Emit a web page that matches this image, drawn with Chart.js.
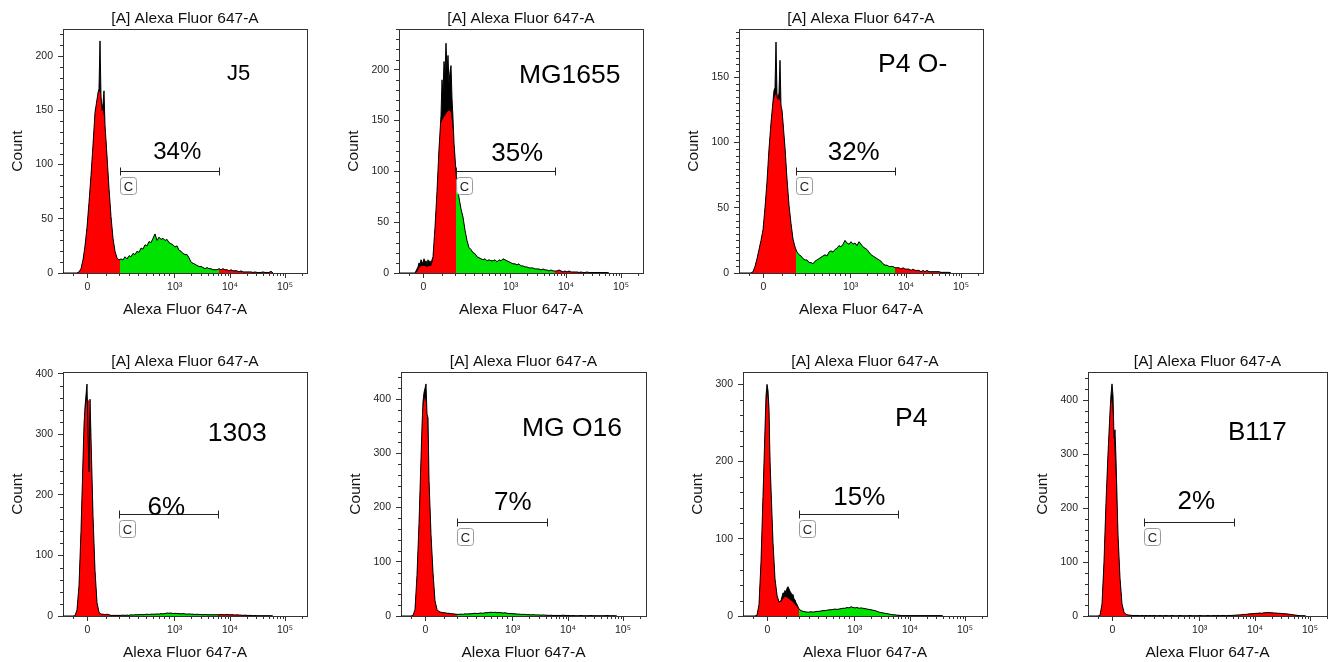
<!DOCTYPE html>
<html><head><meta charset="utf-8">
<script src="https://cdn.jsdelivr.net/npm/chart.js@4.4.1/dist/chart.umd.min.js"></script>
<style>
html,body{margin:0;padding:0;background:#fff;width:1334px;height:662px;overflow:hidden;position:relative;}
canvas{position:absolute;}
</style></head><body>
<script>
// ---------------- DATA ----------------
// x is in display channels of the biexponential axis (1 channel = 1 px of plot width),
// counts are listed every channelStep channels starting at channel 0.
const channelStep = 2;
const xTickPositions = [24.5, 111.7, 167, 222];
const xTickLabels = ['0', '10³', '10⁴', '10⁵'];
const xMinorTickPositions = [10, 43, 56, 66, 75, 83, 90, 96, 101, 106, 128.3, 138, 145, 150.4, 154.7, 158.4, 161.6, 164.5, 183.6, 193.4, 200.3, 205.7, 210, 213.7, 216.9, 219.8, 238.6];

const sampleNames = ['J5', 'MG1655', 'P4 O-', '1303', 'MG O16', 'P4', 'B117'];
const gatePercents = ['34%', '35%', '32%', '6%', '7%', '15%', '2%'];
const gateStarts = [56.7, 56.7, 56.7, 55.7, 55.7, 56, 56];
const gateEnds = [155.7, 155.7, 155.7, 155, 146.3, 155.3, 146];
const gateLevels = [94.4, 100.3, 78.3, 169, 174, 132.5, 175];
const yMaxima = [225, 240, 187, 403, 450, 316, 452];
const yTickSteps = [50, 50, 50, 100, 100, 100, 100];
const yMinorSteps = [10, 10, 5, 20, 20, 20, 20];

const j5Counts = [
  0,0,0,0,0,0,0,0,1,4,
  12,25,42,65,90,118,148,160,168,165,
  150,138,110,78,52,32,20,14,12,13,
  12,15,13,16,15,18,17,20,19,23,
  22,26,25,29,28,32,36,30,33,31,
  32,30,31,28,27,26,24,25,21,20,
  18,17,17,14,10,9,8,7,6,6,
  5,4,5,4,4,3,3,3,4,3,
  4,3,3,2,3,2,2,2,1,2,
  1,1,1,1,1,0.5,1,0.5,0.5,0.5,
  1,0.5,0.5,0.5,1.5,0];
const j5Trace = [[35,166],[36,170],[37,214],[38,162],[39,150],[40,156],[41,168],[42,136],[43,122]];

const mg1655Counts = [
  0,0,0,0,0,0,0,0,0,1,
  5,7,7,7,6,7,7,12,45,80,
  122,148,152,155,158,160,158,140,112,85,
  74,63,55,42,32,25,23,20,19,16,
  15,14,13,14,12,13,12,12,13,11,
  13,12,14,13,12,11,10,9,9,8,
  9,7,7,6,6,5,5,5,4,4,
  4,3,4,3,3,2,3,2,2,2,
  3,2,1,2,1,2,1,1,1,1,
  0.5,1,0.5,0.5,1,0.5,0.5,0.5,0.5,0.5,
  0.5,0.5,0.5,0.5,0.5,0];
const mg1655Trace = [[19,6],[20,10],[21,8],[22,13],[23,11],[24,9],[25,14],[26,10],[27,12],[28,8],[29,13],[30,10],[31,12],[32,9],[33,13],[34,16],
  [42,155],[43,190],[44,178],[45,208],[46,196],[47,226],[48,200],[49,214],[50,186],[51,198],[52,204],[53,172],[54,152],[55,128]];

const p4oCounts = [
  0,0,0,0,0,0,0,1,5,11,
  18,25,33,50,70,95,115,130,136,138,
  134,130,116,96,72,52,38,26,20,16,
  14,13,11,10,10,8,8,7,9,10,
  11,12,13,14,13,16,17,16,18,19,
  21,20,22,25,23,22,24,22,23,21,
  24,22,20,19,18,16,14,13,12,11,
  10,9,7,6,6,5,5,5,4,4,
  4,3,4,3,3,3,2,3,2,2,
  2,1,2,1,2,1,1,1,1,1,
  1,0.5,0.5,0.5,0.5,0.5,0];
const p4oTrace = [[35,140],[36,142],[37,177],[38,135],[39,133],[40,138],[41,163],[42,128],[43,125]];

const s1303Counts = [
  0,0,0,0,0,0,0.5,10,50,140,
  265,340,360,355,285,165,75,22,6,3,
  3,2,3,2,1,1,1,1,1,1,
  1.5,1,1.5,1,2,1.5,2,2,2,2.5,
  2,2.5,3,2.5,3,3,3,3.5,3,4,
  3.5,4,5,4.5,5,4,4.5,4,4,3.5,
  4,3.5,3,3.5,3,3,2.5,3,2.5,2.5,
  2,2.5,2,2,2,2,2,2,2,2.5,
  2,2,2.5,2,2,2,1.5,2,1.5,1.5,
  1,1.5,1,1,1,0.5,1,0.5,0.5,0.5,
  0.5,0.5,0.5,0.5,0.5,0];
const s1303Trace = [[21,315],[22,345],[23,365],[24,383],[25,300],[26,238],[27,358],[28,295]];

const mgo16Counts = [
  0,0,0,0,0,0,1,12,75,170,
  290,385,405,380,260,150,80,28,12,8,
  7,6,6,5,5,4,4,3.5,3,3,
  3.5,3,4,3.5,4,4,4.5,5,4.5,5,
  5.5,5,6,6,6.5,7,6.5,7,6,6.5,
  6,5.5,6,5,4.5,4.5,4,4,3.5,3.5,
  3,3,3,2.5,2.5,2,2.5,2,2,2,
  1.5,2,1.5,1.5,1,1.5,1,1,1,1,
  1,1.5,1,1,1,0.5,1,0.5,0.5,0.5,
  1,0.5,0.5,0.5,0.5,1,0.5,0.5,0.5,0.5,
  0.5,0.5,0.5,1,0.5,0.5,0.5,0.5,0];
const mgo16Trace = [[21,350],[22,395],[23,412],[24,420],[25,428],[26,372],[27,366],[28,250]];

const p4Counts = [
  0,0,0,0,0,0,0,1,15,70,
  155,240,290,270,160,95,48,27,18,18,
  22,25,24,22,20,18,15,12,9,7,
  6,5.5,5,5,5.5,5,5.5,6,6,6.5,
  7,7,7.5,8,8,8.5,9,8.5,9,9.5,
  10,10,11,10.5,12,11,10.5,11,10,10.5,
  10,9.5,9,8.5,8,7.5,7,6,5,4.5,
  4,3.5,3,2.5,2,1.5,1.5,1,1,0.5,
  0.5,0.5,0.5,0.5,0.5,0.5,0.5,0.5,0.5,0.5,
  0.5,0.5,0.5,0.5,0.5,0.5,0.5,0.5,0.5,0.5,
  0];
const p4Trace = [[23,285],[24,300],[25,292],[26,268],[27,200],
  [38,20],[39,25],[40,30],[41,29],[42,33],[43,31],[44,36],[45,38],[46,35],[47,32],[48,30],[49,27],[50,28],[51,22],[52,21],[53,17],[54,15]];

const b117Counts = [
  0,0,0,0,0,0,1,22,100,210,
  300,375,405,330,250,150,70,22,7,3,
  2,1.5,1,1,1,1,0.5,1,0.5,1,
  0.5,1,0.5,1,0.5,0.5,1,0.5,0.5,1,
  0.5,0.5,1,0.5,0.5,0.5,1,0.5,0.5,0.5,
  0.5,1,0.5,0.5,0.5,0.5,1,0.5,0.5,0.5,
  1,0.5,0.5,1,0.5,1,0.5,1,1,0.5,
  1,1,1,1.5,1.5,2,2,2.5,3,3,
  3.5,4,4,4.5,5,5,5.5,5,6,6,
  6.5,6,6,5.5,5.5,5,5,4.5,4,4,
  3.5,3,2.5,2,1.5,1,0.5,0.5,0.5,0];
const b117Trace = [[22,378],[23,410],[24,430],[25,408],[26,330],[27,345],[28,290]];

const allCounts = [j5Counts, mg1655Counts, p4oCounts, s1303Counts, mgo16Counts, p4Counts, b117Counts];
const allTraces = [j5Trace, mg1655Trace, p4oTrace, s1303Trace, mgo16Trace, p4Trace, b117Trace];

// ---------------- LAYOUT / STYLE ----------------
const plotBoxes = [ // left, top, width, height (px)
  [63, 29, 244, 244], [399, 29, 244, 244], [739, 29, 244, 244],
  [63, 372, 244, 244], [401, 372, 245, 244], [743, 372, 244, 244], [1088, 372, 239, 244]];
const nameAnchors = [[175.7,185.4],[170.7,196.4],[173.7,161],[174.2,304.6],[171,349],[168.3,258.4],[169.3,343]];
const pctAnchors = [[114.2,112.7],[118.2,119.7],[114.7,93.5],[103.4,182],[111.8,212.3],[116.3,155.8],[108.3,215.2]];
const nameSizes = [22, 26.5, 26.5, 26.5, 26.5, 26.5, 26];
const pctSizes = [24, 26, 26, 26, 26, 26, 26];

const FONT = "'Liberation Sans', Arial, Helvetica, sans-serif";
const RED = '#ff0000', GREEN = '#00e300', AXIS = '#333333';
Chart.defaults.font.family = FONT;
Chart.defaults.color = '#222';

const Y_W = 64, TOP_H = 30, BOT_H = 46, RIGHT_PAD = 6;

function gateGradient(chart, i) {
  const a = chart.chartArea, x = chart.scales.x;
  if (!a || !x) return RED;
  const w = a.right - a.left;
  const f = v => Math.min(1, Math.max(0, (x.getPixelForValue(v) - a.left) / w));
  const f1 = f(gateStarts[i]), f2 = f(gateEnds[i]);
  const g = chart.ctx.createLinearGradient(a.left, 0, a.right, 0);
  g.addColorStop(0, RED); g.addColorStop(f1, RED); g.addColorStop(f1, GREEN);
  g.addColorStop(f2, GREEN); g.addColorStop(f2, RED); g.addColorStop(1, RED);
  return g;
}

function textAtCenter(ctx, txt, cx, cy, size) {
  ctx.font = size + 'px ' + FONT;
  ctx.textAlign = 'center';
  ctx.textBaseline = 'alphabetic';
  ctx.fillText(txt, cx, cy + size * 0.358);
}

const flowDecor = {
  id: 'flowDecor',
  afterDatasetsDraw(chart, args, o) {
    const i = o.index;
    const {ctx, chartArea: a, scales: {x, y}} = chart;
    ctx.save();
    // minor ticks
    ctx.strokeStyle = AXIS; ctx.lineWidth = 1; ctx.beginPath();
    xMinorTickPositions.forEach(c => {
      if (c < x.min || c > x.max) return;
      const px = Math.round(x.getPixelForValue(c)) + 0.5;
      ctx.moveTo(px, a.bottom); ctx.lineTo(px, a.bottom + 3);
    });
    const ms = yMinorSteps[i], mj = yTickSteps[i];
    for (let v = ms; v <= y.max + 1e-9; v += ms) {
      if (Math.abs(v / mj - Math.round(v / mj)) < 1e-6) continue;
      const py = Math.round(y.getPixelForValue(v)) + 0.5;
      ctx.moveTo(a.left, py); ctx.lineTo(a.left - 3, py);
    }
    ctx.stroke();
    // gate bracket
    const gx0 = Math.round(x.getPixelForValue(gateStarts[i])) + 0.5;
    const gx1 = Math.round(x.getPixelForValue(gateEnds[i])) + 0.5;
    const gy = Math.round(y.getPixelForValue(gateLevels[i])) + 0.5;
    ctx.strokeStyle = '#222'; ctx.beginPath();
    ctx.moveTo(gx0, gy); ctx.lineTo(gx1, gy);
    ctx.moveTo(gx0, gy - 4); ctx.lineTo(gx0, gy + 4);
    ctx.moveTo(gx1, gy - 4); ctx.lineTo(gx1, gy + 4);
    ctx.stroke();
    // "C" tag
    const bx = gx0, by = gy + 6, bw = 16, bh = 17, r = 3;
    ctx.beginPath();
    ctx.moveTo(bx + r, by); ctx.lineTo(bx + bw - r, by); ctx.quadraticCurveTo(bx + bw, by, bx + bw, by + r);
    ctx.lineTo(bx + bw, by + bh - r); ctx.quadraticCurveTo(bx + bw, by + bh, bx + bw - r, by + bh);
    ctx.lineTo(bx + r, by + bh); ctx.quadraticCurveTo(bx, by + bh, bx, by + bh - r);
    ctx.lineTo(bx, by + r); ctx.quadraticCurveTo(bx, by, bx + r, by);
    ctx.closePath();
    ctx.fillStyle = 'rgba(255,255,255,0.9)'; ctx.fill();
    ctx.strokeStyle = '#9a9a9a'; ctx.stroke();
    ctx.fillStyle = '#222';
    textAtCenter(ctx, 'C', bx + bw / 2, by + bh / 2, 13);
    // labels
    ctx.fillStyle = '#000';
    textAtCenter(ctx, gatePercents[i], x.getPixelForValue(pctAnchors[i][0]), y.getPixelForValue(pctAnchors[i][1]), pctSizes[i]);
    textAtCenter(ctx, sampleNames[i], x.getPixelForValue(nameAnchors[i][0]), y.getPixelForValue(nameAnchors[i][1]), nameSizes[i]);
    ctx.restore();
  }
};

sampleNames.forEach((name, i) => {
  const [L, T, W, H] = plotBoxes[i];
  const cw = Y_W + W + RIGHT_PAD, chh = TOP_H + H + BOT_H;
  const cv = document.createElement('canvas');
  cv.width = cw; cv.height = chh;
  cv.style.left = (L - Y_W) + 'px'; cv.style.top = (T - TOP_H) + 'px';
  cv.style.width = cw + 'px'; cv.style.height = chh + 'px';
  document.body.appendChild(cv);

  const fillPts = allCounts[i].map((v, k) => ({x: k * channelStep, y: v}));
  const ov = allTraces[i];
  const tracePts = fillPts.filter(p => !ov.some(o => Math.abs(o[0] - p.x) < 1.5))
    .concat(ov.map(o => ({x: o[0], y: o[1]})))
    .sort((a, b) => a.x - b.x);

  const tickFont = {size: 10.5, family: FONT};
  const titleFont = {size: 15.5, family: FONT};
  new Chart(cv, {
    type: 'line',
    data: {datasets: [
      {label: name + ' trace band', data: tracePts, borderWidth: 0, backgroundColor: '#000', fill: 'origin', pointRadius: 0, tension: 0, order: 2},
      {label: name + ' gated fill', data: fillPts, borderWidth: 0, backgroundColor: c => gateGradient(c.chart, i), fill: 'origin', pointRadius: 0, tension: 0, order: 1},
      {label: name + ' trace', data: tracePts, borderColor: '#000', borderWidth: 1, fill: false, pointRadius: 0, tension: 0, order: 0}
    ]},
    options: {
      responsive: false, animation: false, devicePixelRatio: 1, events: [],
      layout: {padding: {left: 0, top: 0, right: RIGHT_PAD, bottom: 0}},
      plugins: {legend: {display: false}, tooltip: {enabled: false}, title: {display: false}, flowDecor: {index: i}},
      scales: {
        x: {
          type: 'linear', position: 'bottom', min: 0, max: W,
          afterBuildTicks: s => { s.ticks = xTickPositions.map(v => ({value: v})); },
          ticks: {autoSkip: false, maxRotation: 0, font: tickFont, color: '#222', padding: 3,
            callback: v => xTickLabels[xTickPositions.indexOf(v)]},
          grid: {display: true, drawOnChartArea: false, drawTicks: true, tickLength: 5, tickColor: AXIS},
          border: {display: true, color: AXIS, width: 1},
          title: {display: true, text: 'Alexa Fluor 647-A', font: titleFont, color: '#111', padding: {top: 0, bottom: 0}},
          afterFit: s => { s.height = BOT_H; }
        },
        xTop: {
          type: 'linear', position: 'top', min: 0, max: W,
          ticks: {display: false},
          grid: {display: true, drawOnChartArea: false, drawTicks: false},
          border: {display: true, color: AXIS, width: 1},
          title: {display: true, text: '[A] Alexa Fluor 647-A', font: titleFont, color: '#111', padding: {top: 10, bottom: 0}},
          afterFit: s => { s.height = TOP_H; }
        },
        y: {
          type: 'linear', position: 'left', min: 0, max: yMaxima[i],
          afterBuildTicks: s => {
            const t = [];
            for (let v = 0; v <= yMaxima[i]; v += yTickSteps[i]) t.push({value: v});
            s.ticks = t;
          },
          ticks: {autoSkip: false, font: tickFont, color: '#222', padding: 5, callback: v => String(v)},
          grid: {display: true, drawOnChartArea: false, drawTicks: true, tickLength: 5, tickColor: AXIS},
          border: {display: true, color: AXIS, width: 1},
          title: {display: true, text: 'Count', font: titleFont, color: '#111', padding: {top: 9.7, bottom: 0}},
          afterFit: s => { s.width = Y_W; }
        },
        yRight: {
          type: 'linear', position: 'right', min: 0, max: yMaxima[i],
          ticks: {display: false},
          grid: {display: true, drawOnChartArea: false, drawTicks: false},
          border: {display: true, color: AXIS, width: 1},
          afterFit: s => { s.width = 0; }
        }
      }
    },
    plugins: [flowDecor]
  });
});
</script>
</body></html>
